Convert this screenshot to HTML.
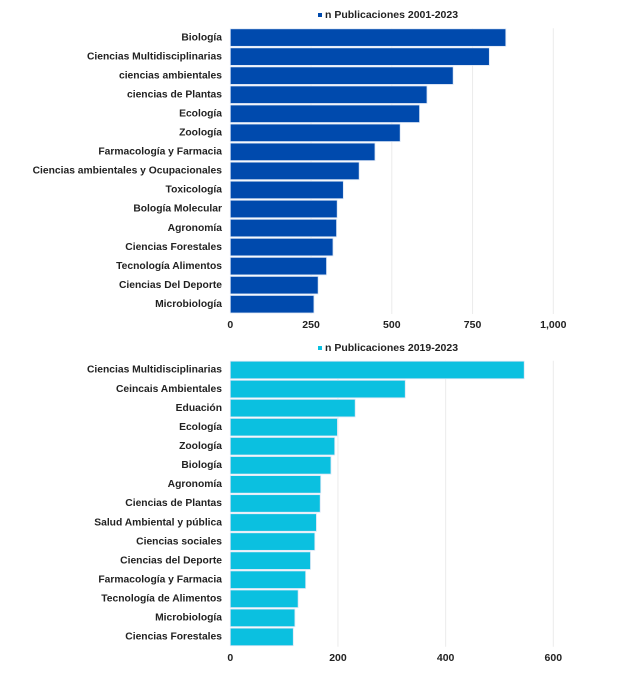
<!DOCTYPE html>
<html><head><meta charset="utf-8"><style>
body{margin:0;background:#fff;width:622px;height:680px;overflow:hidden}
svg{display:block;font-family:"Liberation Sans",Arial,sans-serif;font-weight:bold}
</style></head><body>
<svg id="c" width="622" height="680" viewBox="0 0 622 680"></svg>
<script>
const cats1=["Biología","Ciencias Multidisciplinarias","ciencias ambientales","ciencias de Plantas","Ecología","Zoología","Farmacología y Farmacia","Ciencias ambientales y Ocupacionales","Toxicología","Bología Molecular","Agronomía","Ciencias Forestales","Tecnología Alimentos","Ciencias Del Deporte","Microbiología"];
const vals1=[853,802,690,609,586,526,448,399,350,331,329,318,298,272,259];
const ticks1=[0,250,500,750,1000];
const tickLabels1=["0","250","500","750","1,000"];
const cats2=["Ciencias Multidisciplinarias","Ceincais Ambientales","Eduación","Ecología","Zoología","Biología","Agronomía","Ciencias de Plantas","Salud Ambiental y pública","Ciencias sociales","Ciencias del Deporte","Farmacología y Farmacia","Tecnología de Alimentos","Microbiología","Ciencias Forestales"];
const vals2=[546,325,232,199,194,187,168,167,160,157,149,140,126,120,117];
const ticks2=[0,200,400,600];
const tickLabels2=["0","200","400","600"];
const NS="http://www.w3.org/2000/svg";
const svg=document.getElementById('c');
function mk(t,a,p){const e=document.createElementNS(NS,t);for(const k in a)e.setAttribute(k,a[k]);(p||svg).appendChild(e);return e;}
function chart(o){
  const g=mk('g',{});
  
  
  const x=v=>o.x0+(v/o.max)*o.w;
  const pitch=(o.y1-o.y0)/o.cats.length;
  o.ticks.forEach((t,i)=>{
    if(t>0){const l=mk('line',{x1:x(t),x2:x(t),y1:o.y0,y2:o.y1,stroke:'#ebebeb','stroke-width':1},g);
    
    }
    const tx=mk('text',{x:x(t),y:o.tickY,'text-anchor':'middle','font-size':10.5,fill:'#222'},g);
    tx.textContent=o.tickLabels[i];
    
    
  });
  o.cats.forEach((c,i)=>{
    const y=o.y0+i*pitch;
    const r=mk('rect',{x:x(0),y:y+0.5,width:x(o.vals[i])-x(0),height:pitch-1.5,fill:o.color,stroke:'#dce6f5','stroke-width':0.8},g);
    
    
    const t=mk('text',{x:222,y:y+pitch/2+2.5,'text-anchor':'end','font-size':10.3,fill:'#222'},g);
    t.textContent=c;
    
    
  });
  const lm=mk('rect',{x:318,y:o.legY-5,width:4,height:4,fill:o.color},g);
  
  
  const lt=mk('text',{x:325,y:o.legY,'font-size':10.5,fill:'#222'},g);
  lt.textContent=o.legend;
  
  
}
chart({name:'chart-2001-2023',cats:cats1,vals:vals1,ticks:ticks1,tickLabels:tickLabels1,max:1000,x0:230.3,w:323,y0:28.3,y1:314,tickY:328,color:'#004aad',legY:18,legend:'n Publicaciones 2001-2023'});
chart({name:'chart-2019-2023',cats:cats2,vals:vals2,ticks:ticks2,tickLabels:tickLabels2,max:600,x0:230.3,w:323,y0:360.7,y1:646.7,tickY:661,color:'#0bc0e0',legY:351,legend:'n Publicaciones 2019-2023'});
</script>
</body></html>
